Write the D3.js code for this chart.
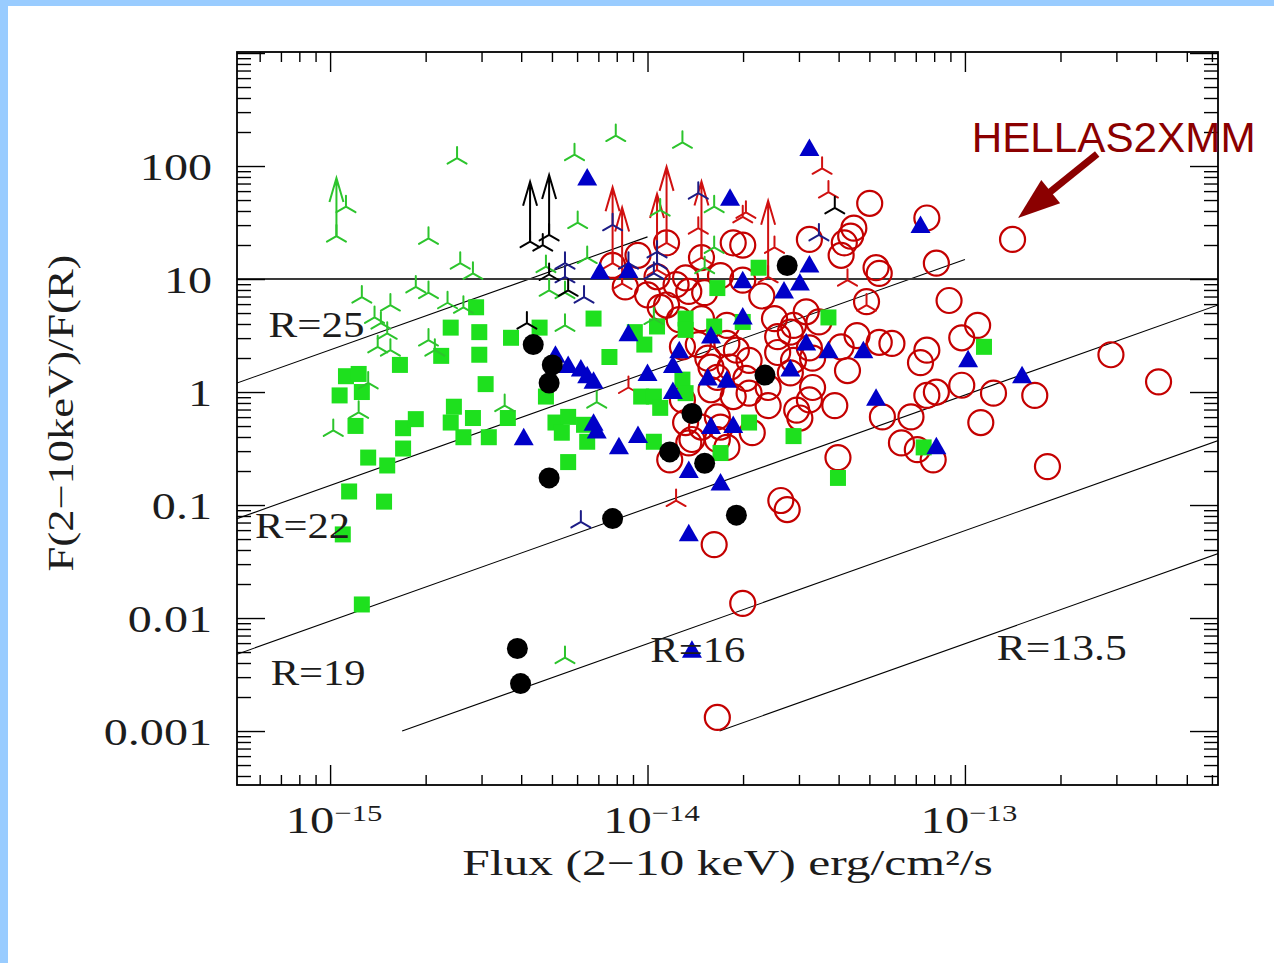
<!DOCTYPE html>
<html>
<head>
<meta charset="utf-8">
<script src="https://cdn.jsdelivr.net/npm/d3@7"></script>
<style>
  html, body { margin: 0; padding: 0; background: #fff; }
  svg { display: block; }
</style>
</head>
<body>
<svg id="chart" width="1274" height="963"></svg>
<script>
// ------------------------------------------------------------------
// Data: log10 of the 2-10 keV flux (erg/cm^2/s) and log10 of the
// X-ray to optical (R band) flux ratio, one pair of arrays per sample.
// ------------------------------------------------------------------

// HELLAS2XMM sources (open red circles)
const hellasLogFlux = [
  -13.30, -13.12, -12.85, -13.94, -13.70, -13.49, -13.35, -13.36, -13.38, -13.39,
  -13.83, -13.28, -13.27, -13.09, -13.88, -13.97, -13.77, -13.70, -14.11, -14.07,
  -14.00, -13.87, -13.82, -13.94, -13.31, -13.05, -13.50, -13.60, -13.75, -13.90,
  -13.54, -13.55, -13.59, -12.96, -13.34, -13.27, -13.23, -13.12, -13.01, -13.89,
  -13.84, -13.72, -13.59, -13.49, -13.39, -13.81, -13.74, -13.54, -13.48, -13.37,
  -13.14, -12.54, -13.80, -13.78, -13.55, -13.62, -13.48, -13.80, -13.68, -13.89,
  -13.73, -13.12, -13.09, -13.01, -12.91, -12.78, -12.39, -13.41, -13.49, -13.62,
  -13.53, -13.26, -13.17, -13.88, -13.78, -13.77, -13.67, -12.95, -12.74, -13.20,
  -13.15, -13.10, -13.40, -13.93, -13.86, -13.78, -13.58, -13.56, -13.79, -13.70,
  -13.78, -13.96, -13.91, -13.73, -13.69, -13.52, -13.87, -13.83, -13.75, -13.75,
  -13.83, -13.68, -14.03, -13.64, -13.46
];
const hellasLogRatio = [
   1.67,  1.54,  1.35,  1.32,  1.30,  1.35,  1.45,  1.38,  1.32,  1.21,
   1.19,  1.10,  1.05,  1.14,  1.01,  1.02,  1.03,  0.99,  1.12,  0.93,
   0.86,  0.89,  0.88,  0.77,  0.80,  0.81,  0.71,  0.65,  0.59,  0.64,
   0.59,  0.53,  0.49,  0.59,  0.50,  0.44,  0.43,  0.37,  0.48,  0.40,
   0.42,  0.37,  0.35,  0.39,  0.40,  0.30,  0.22,  0.28,  0.30,  0.19,
   0.26,  0.33,  0.22,  0.13,  0.17,  0.04,  0.04,  0.02, -0.01, -0.07,
  -0.04, -0.03,  0.00,  0.06, -0.01, -0.03,  0.09, -0.12, -0.07, -0.12,
  -0.16, -0.22, -0.22, -0.27, -0.22, -0.31, -0.36, -0.27, -0.66, -0.45,
  -0.51, -0.60, -0.58, -0.60, -0.42, -0.42, -0.96, -1.04, -1.35, -1.87,
  -2.88,  0.75,  0.95,  1.32,  0.12, -0.23, -0.45, -0.31, -0.49,  0.43,
   0.65,  0.28,  1.21,  0.85,  0.62
];

// red three-pronged markers; the first group carries lower-limit arrows
const redArrowLogFlux  = [-14.11, -14.08, -13.97, -13.94, -13.83, -13.62];
const redArrowLogRatio = [  1.14,   0.96,   1.08,   1.32,   1.19,   1.02];
const redStarLogFlux   = [-13.45, -13.43, -13.69, -13.60, -13.37, -13.31, -14.06, -13.91, -13.84, -13.70];
const redStarLogRatio  = [  1.98,   1.77,   1.59,   1.28,   0.99,   0.77,   0.04,  -0.96,   1.45,   1.55];

// filled green squares
const greenSquareLogFlux = [
  -14.95, -14.91, -14.97, -14.90, -14.92, -14.88, -14.82, -14.77, -14.77, -14.73,
  -14.94, -14.83, -14.96, -14.90, -14.78, -14.65, -14.53, -14.51, -14.61, -14.55,
  -14.62, -14.58, -14.50, -14.54, -14.62, -14.53, -14.43, -14.17, -14.34, -14.04,
  -13.97, -14.01, -13.88, -13.88, -13.79, -13.78, -14.12, -14.32, -14.29, -14.25,
  -14.20, -14.19, -14.25, -14.02, -13.98, -13.96, -13.98, -13.89, -13.88, -13.77,
  -14.44, -13.65, -13.43, -13.70, -12.94, -13.68, -13.54, -13.40, -13.13, -14.27
];
const greenSquareLogRatio = [
   0.14,  0.16, -0.03,  0.00, -0.30, -0.58, -0.65, -0.50, -0.32, -0.24,
  -0.88, -0.97, -1.26, -1.88,  0.24,  0.32,  0.33,  0.07, -0.13, -0.23,
  -0.27, -0.40, -0.40,  0.75,  0.57,  0.53,  0.48,  0.65,  0.57,  0.53,
   0.58,  0.42,  0.65,  0.55,  0.58,  0.92,  0.31, -0.04, -0.27, -0.22,
  -0.29, -0.44, -0.62, -0.04, -0.04, -0.14, -0.44,  0.11, -0.01, -0.54,
  -0.23,  1.10,  0.66,  0.62,  0.40, -0.27, -0.39, -0.76, -0.49, -0.36
];

// green three-pronged markers (one with a lower-limit arrow)
const greenArrowLogFlux  = [-14.98];
const greenArrowLogRatio = [  1.38];
const greenStarLogFlux = [
  -14.95, -14.60, -14.69, -14.59, -14.55, -14.73, -14.69, -14.90, -14.81, -14.63,
  -14.58, -14.86, -14.84, -14.82, -14.69, -14.85, -14.81, -14.67, -14.99, -14.91,
  -14.88, -14.10, -13.89, -14.23, -14.22, -14.19, -14.32, -14.31, -14.26, -14.26,
  -13.96, -13.79, -13.79, -13.82, -13.98, -14.26, -14.45, -14.16
];
const greenStarLogRatio = [
   1.64,  2.07,  1.36,  1.14,  1.05,  0.93,  0.88,  0.84,  0.77,  0.79,
   0.75,  0.66,  0.61,  0.52,  0.46,  0.40,  0.37,  0.37, -0.34, -0.18,
   0.08,  2.27,  2.21,  2.10,  1.50,  1.19,  1.11,  0.90,  0.88,  0.59,
   1.61,  1.64,  1.28,  1.10,  0.65, -2.35, -0.12, -0.09
];

// filled blue triangles
const blueTriangleLogFlux = [
  -13.49, -14.19, -13.74, -13.14, -14.15, -14.06, -14.06, -13.90, -13.80, -14.29,
  -13.49, -13.52, -13.57, -13.70, -13.70, -13.50, -13.43, -13.32, -12.99, -14.39,
  -14.29, -14.25, -14.21, -14.19, -14.17, -14.17, -14.16, -14.09, -14.03, -14.00,
  -13.92, -13.92, -13.81, -13.75, -13.80, -13.87, -13.77, -13.87, -13.73, -13.55,
  -13.28, -13.09, -12.82, -13.86
];
const blueTriangleLogRatio = [
   2.14,  1.88,  1.70,  1.46,  1.05,  1.06,  0.50,  0.35,  0.48,  0.31,
   1.11,  0.95,  0.88,  0.97,  0.65,  0.42,  0.35,  0.35,  0.27, -0.42,
   0.22,  0.22,  0.19,  0.13,  0.08, -0.29, -0.36, -0.50, -0.40,  0.15,
   0.22, -0.01,  0.11,  0.09, -0.32, -0.71, -0.82, -1.27, -0.31,  0.19,
  -0.07, -0.50,  0.13, -2.30
];

// navy three-pronged markers
const navyStarLogFlux  = [-14.26, -14.26, -14.20, -14.11, -14.06, -13.97, -13.97, -13.98, -13.84, -13.46, -14.21];
const navyStarLogRatio = [  1.14,   1.02,   0.84,   1.48,   1.14,   1.24,   1.14,   1.05,   1.76,   1.39,  -1.15];

// black three-pronged markers (two with lower-limit arrows)
const blackArrowLogFlux  = [-14.37, -14.31];
const blackArrowLogRatio = [  1.33,   1.39];
const blackStarLogFlux   = [-14.33, -14.38, -14.31, -14.25, -13.41];
const blackStarLogRatio  = [  1.30,   0.61,   1.04,   0.90,   1.63];

// filled black circles
const blackDotLogFlux  = [-14.36, -14.30, -14.31, -14.31, -14.11, -13.93, -13.86, -13.82, -13.72, -13.56, -13.63, -14.41, -14.40];
const blackDotLogRatio = [  0.42,   0.24,   0.08,  -0.76,  -1.12,  -0.53,  -0.19,  -0.63,  -1.09,   1.12,   0.15,  -2.27,  -2.58];

// lines of constant R magnitude: log(FX/FR) = log FX + R/2.5 + zero point
const rMags        = [25, 22, 19, 16, 13.5];
const rLineFluxEnd = [1e-14, 1e-13, 1e-12, 1e-12, 1e-12];
const rZeroPoint   = 5.373;
const ratioFloor   = 1e-3;
const rLabels      = ["R=25", "R=22", "R=19", "R=16", "R=13.5"];
const rLabelFlux   = [6.4e-16, 5.8e-16, 6.5e-16, 1.02e-14, 1.26e-13];
const rLabelRatio  = [3.07, 0.051, 0.00255, 0.0041, 0.00425];
const rLabelWidth  = [96, 95, 95, 95, 130];

// reference level of the ratio
const ratioLevel = 10;

// axes
const xDomain = [5.09e-16, 6.27e-13];
const yDomain = [3.33e-4, 1021];
const xMajorTicks = [1e-15, 1e-14, 1e-13];
const xTickExponents = ["\u221215", "\u221214", "\u221213"];
const xMinorTicks = [6e-16, 7e-16, 8e-16, 9e-16,
  2e-15, 3e-15, 4e-15, 5e-15, 6e-15, 7e-15, 8e-15, 9e-15,
  2e-14, 3e-14, 4e-14, 5e-14, 6e-14, 7e-14, 8e-14, 9e-14,
  2e-13, 3e-13, 4e-13, 5e-13, 6e-13];
const yMajorTicks = [0.001, 0.01, 0.1, 1, 10, 100, 1000];
const yTickLabels = ["0.001", "0.01", "0.1", "1", "10", "100"];
const yMinorTicks = [4e-4, 5e-4, 6e-4, 7e-4, 8e-4, 9e-4,
  0.002, 0.003, 0.004, 0.005, 0.006, 0.007, 0.008, 0.009,
  0.02, 0.03, 0.04, 0.05, 0.06, 0.07, 0.08, 0.09,
  0.2, 0.3, 0.4, 0.5, 0.6, 0.7, 0.8, 0.9,
  2, 3, 4, 5, 6, 7, 8, 9,
  20, 30, 40, 50, 60, 70, 80, 90,
  200, 300, 400, 500, 600, 700, 800, 900];

// callout for the HELLAS2XMM sample
const calloutText = "HELLAS2XMM";
const calloutFlux = 1.05e-13, calloutRatio = 133;
const calloutTail = [2.61e-13, 127.7];
const calloutTip  = [1.47e-13, 34.7];

// ------------------------------------------------------------------
const W = 1274, H = 963;
const X0 = 237, X1 = 1218, Y0 = 52, Y1 = 785;
const SERIF = "'Liberation Serif', 'DejaVu Serif', serif";
const SANS = "'Liberation Sans', Arial, sans-serif";
const INK = "#1c1c1c";

const svg = d3.select("#chart");
const x = d3.scaleLog().domain(xDomain).range([X0, X1]);
const y = d3.scaleLog().domain(yDomain).range([Y1, Y0]);

// page background with the light blue border strips
svg.append("rect").attr("width", W).attr("height", H).attr("fill", "#fff");
svg.append("rect").attr("x", 0).attr("y", 0).attr("width", 8).attr("height", H).attr("fill", "#99ccff");
svg.append("rect").attr("x", 0).attr("y", 0).attr("width", W).attr("height", 6).attr("fill", "#99ccff");

svg.append("defs").append("clipPath").attr("id", "plotClip")
  .append("rect").attr("x", X0).attr("y", Y0).attr("width", X1 - X0).attr("height", Y1 - Y0);

const plot = svg.append("g").attr("clip-path", "url(#plotClip)");

// constant-magnitude lines
const line = d3.line().x(d => x(d[0])).y(d => y(d[1]));
rMags.forEach((R, i) => {
  const k = Math.pow(10, R / 2.5 + rZeroPoint);
  const fStart = Math.max(xDomain[0], ratioFloor / k);
  const fEnd = rLineFluxEnd[i];
  plot.append("path")
    .attr("d", line([[fStart, fStart * k], [fEnd, fEnd * k]]))
    .attr("fill", "none").attr("stroke", "#000").attr("stroke-width", 1.1);
});

// horizontal reference level
plot.append("line")
  .attr("x1", X0).attr("x2", X1).attr("y1", y(ratioLevel)).attr("y2", y(ratioLevel))
  .attr("stroke", "#3a3a3a").attr("stroke-width", 1.8);

// helpers
const toPoints = (lf, lr) => lf.map((f, i) => ({ f: Math.pow(10, f), r: Math.pow(10, lr[i]) }));
const TRI = 11;
const tripodPath = `M0,0V${-TRI}M0,0L${-0.866 * TRI},${0.5 * TRI}M0,0L${0.866 * TRI},${0.5 * TRI}`;
const arrowPath = len => `M0,0V${-len}M-7,${-len + 24}L0,${-len}L7,${-len + 24}`;

function drawStars(lf, lr, color, arrowLen) {
  const g = plot.append("g");
  const sel = g.selectAll("g").data(toPoints(lf, lr)).join("g")
    .attr("transform", d => `translate(${x(d.f)},${y(d.r)})`);
  sel.append("path").attr("d", tripodPath)
    .attr("fill", "none").attr("stroke", color).attr("stroke-width", 2).attr("stroke-linecap", "round");
  if (arrowLen) {
    sel.append("path").attr("d", arrowPath(arrowLen))
      .attr("fill", "none").attr("stroke", color).attr("stroke-width", 2)
      .attr("stroke-linejoin", "miter");
  }
}

// open red circles
plot.append("g").selectAll("circle").data(toPoints(hellasLogFlux, hellasLogRatio)).join("circle")
  .attr("cx", d => x(d.f)).attr("cy", d => y(d.r)).attr("r", 12.5)
  .attr("fill", "none").attr("stroke", "#c40000").attr("stroke-width", 2.2);

drawStars(redStarLogFlux, redStarLogRatio, "#d01010");
drawStars(redArrowLogFlux, redArrowLogRatio, "#d01010", 76);

// green squares
plot.append("g").selectAll("rect").data(toPoints(greenSquareLogFlux, greenSquareLogRatio)).join("rect")
  .attr("x", d => x(d.f) - 8).attr("y", d => y(d.r) - 8).attr("width", 16).attr("height", 16)
  .attr("fill", "#1ee01e");

drawStars(greenStarLogFlux, greenStarLogRatio, "#2cc42c");
drawStars(greenArrowLogFlux, greenArrowLogRatio, "#2cc42c", 58);
drawStars(navyStarLogFlux, navyStarLogRatio, "#1c1c86");
drawStars(blackStarLogFlux, blackStarLogRatio, "#000");
drawStars(blackArrowLogFlux, blackArrowLogRatio, "#000", 60);

// blue triangles
const TS = 20, TH = 17.5;
plot.append("g").selectAll("path").data(toPoints(blueTriangleLogFlux, blueTriangleLogRatio)).join("path")
  .attr("transform", d => `translate(${x(d.f)},${y(d.r)})`)
  .attr("d", `M0,${-TH * 2 / 3}L${TS / 2},${TH / 3}L${-TS / 2},${TH / 3}Z`)
  .attr("fill", "#0000c8");

// black dots
plot.append("g").selectAll("circle").data(toPoints(blackDotLogFlux, blackDotLogRatio)).join("circle")
  .attr("cx", d => x(d.f)).attr("cy", d => y(d.r)).attr("r", 10.5)
  .attr("fill", "#000");

// frame and inward ticks on all four sides
function tickRow(axis, values, size, transform) {
  svg.append("g").attr("transform", transform)
    .call(axis.tickValues(values).tickSizeInner(-size).tickSizeOuter(0).tickFormat(() => ""))
    .call(g => g.select(".domain").remove())
    .call(g => g.selectAll("text").remove())
    .call(g => g.selectAll("line").attr("stroke", "#000").attr("stroke-width", 1.4));
}
tickRow(d3.axisBottom(x), xMajorTicks, 20, `translate(0,${Y1})`);
tickRow(d3.axisBottom(x), xMinorTicks, 10, `translate(0,${Y1})`);
tickRow(d3.axisTop(x), xMajorTicks, 20, `translate(0,${Y0})`);
tickRow(d3.axisTop(x), xMinorTicks, 10, `translate(0,${Y0})`);
tickRow(d3.axisLeft(y), yMajorTicks, 28, `translate(${X0},0)`);
tickRow(d3.axisLeft(y), yMinorTicks, 14, `translate(${X0},0)`);
tickRow(d3.axisRight(y), yMajorTicks, 28, `translate(${X1},0)`);
tickRow(d3.axisRight(y), yMinorTicks, 14, `translate(${X1},0)`);

svg.append("rect").attr("x", X0).attr("y", Y0).attr("width", X1 - X0).attr("height", Y1 - Y0)
  .attr("fill", "none").attr("stroke", "#000").attr("stroke-width", 1.8);

// text helpers: wide, light lettering obtained by stretching horizontally
function placeText(str, px, py, opts) {
  const g = svg.append("g").attr("transform", `translate(${px},${py})${opts.rotate ? ` rotate(${opts.rotate})` : ""}`);
  const t = g.append("text")
    .attr("font-family", opts.family || SERIF)
    .attr("font-size", opts.size)
    .attr("text-anchor", opts.anchor || "start")
    .attr("fill", opts.fill || INK)
    .text(str);
  const natural = t.node().getComputedTextLength();
  const s = opts.width ? opts.width / natural : (opts.stretch || 1);
  t.attr("transform", `scale(${s},1)`);
  return t;
}

// y tick labels
yTickLabels.forEach((lab, i) => {
  placeText(lab, X0 - 25, y(yMajorTicks[i]) + 14, { size: 37, anchor: "end", stretch: 1.3 });
});

// x tick labels with superscript exponents
xMajorTicks.forEach((v, i) => {
  const g = svg.append("g").attr("transform", `translate(${x(v) + 4},${Y1 + 48})`);
  const t = g.append("text").attr("font-family", SERIF).attr("font-size", 38)
    .attr("fill", INK).attr("text-anchor", "middle").attr("transform", "scale(1.28,1)");
  t.append("tspan").text("10");
  t.append("tspan").attr("font-size", 24).attr("dy", -12).text(xTickExponents[i]);
});

// axis titles
placeText("Flux (2\u221210 keV) erg/cm\u00b2/s", (X0 + X1) / 2, Y1 + 90, { size: 35, anchor: "middle", width: 531 });
placeText("F(2\u221210keV)/F(R)", 73, 413, { size: 35, anchor: "middle", width: 317, rotate: -90 });

// magnitude labels
rLabels.forEach((lab, i) => {
  placeText(lab, x(rLabelFlux[i]), y(rLabelRatio[i]), { size: 36, width: rLabelWidth[i] });
});

// HELLAS2XMM callout
placeText(calloutText, x(calloutFlux), y(calloutRatio), { size: 42, family: SANS, fill: "#8b0000", width: 284 });
(function () {
  const tx = x(calloutTail[0]), ty = y(calloutTail[1]);
  const hx = x(calloutTip[0]), hy = y(calloutTip[1]);
  const dx = hx - tx, dy = hy - ty, L = Math.hypot(dx, dy);
  const ux = dx / L, uy = dy / L, nx = -uy, ny = ux;
  const headLen = 42, headHalf = 15;
  const bx = hx - ux * headLen, by = hy - uy * headLen;
  svg.append("line").attr("x1", tx).attr("y1", ty).attr("x2", bx + ux * 4).attr("y2", by + uy * 4)
    .attr("stroke", "#8b0000").attr("stroke-width", 7);
  svg.append("path")
    .attr("d", `M${hx},${hy}L${bx + nx * headHalf},${by + ny * headHalf}L${bx - nx * headHalf},${by - ny * headHalf}Z`)
    .attr("fill", "#8b0000");
})();
</script>
</body>
</html>
